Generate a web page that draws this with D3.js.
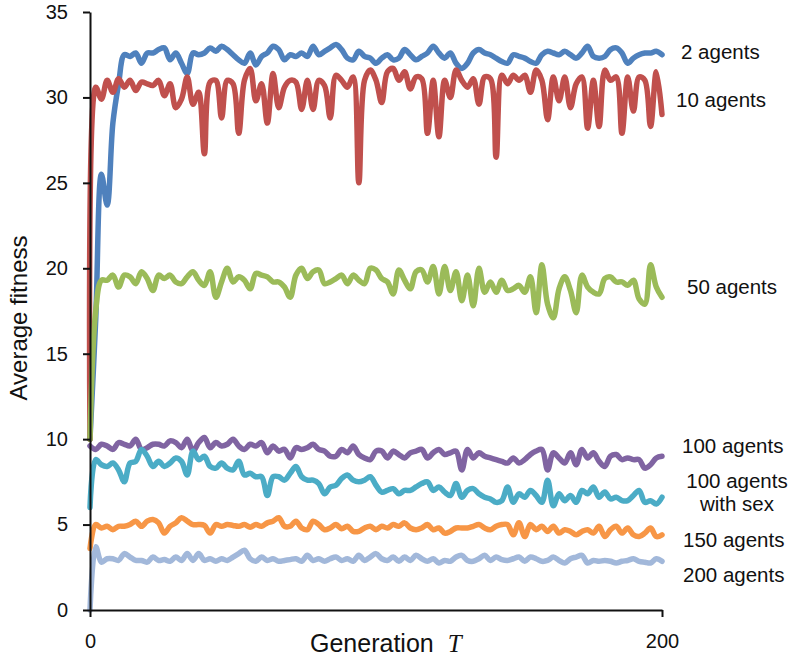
<!DOCTYPE html>
<html>
<head>
<meta charset="utf-8">
<script src="https://cdn.jsdelivr.net/npm/d3@7"></script>
<style>
  html, body { margin: 0; padding: 0; background: #fff; }
  svg { display: block; }
  text { font-family: "Liberation Sans", Arial, Helvetica, sans-serif; fill: #111; }
</style>
</head>
<body>
<svg id="chart" width="797" height="659"></svg>
<script>
// ---- data (generation step 2, 0..200) ----
const generations = d3.range(0, 201, 2);

const agents2 = [10,17,25.5,23.7,28.5,30.8,32.5,32.4,32.6,32.0,32.6,32.6,32.8,32.9,32.2,32.6,32.0,31.4,32.6,32.5,
  32.6,32.9,32.7,33.0,32.8,32.5,32.2,32.0,32.6,31.9,32.4,32.6,33.0,32.8,32.2,32.5,32.4,32.6,32.4,33.0,
  32.5,32.7,32.9,33.1,32.8,32.3,32.2,32.7,32.4,32.3,32.0,32.3,32.5,32.2,32.3,32.8,32.5,32.2,32.4,32.6,
  33.0,32.6,32.3,32.6,32.0,31.7,32.0,32.6,32.8,32.6,32.5,32.3,32.1,32.0,32.5,32.4,32.3,32.1,32.0,32.5,
  32.7,32.6,32.5,32.7,32.5,32.3,32.6,33.0,32.4,32.3,32.4,32.8,32.9,32.6,32.0,32.3,32.5,32.6,32.6,32.7,32.5];

const agents10 = [10,30.6,29.9,31.0,30.3,31.1,30.6,31.0,30.4,30.9,30.8,30.7,31.0,30.1,30.8,29.4,29.9,31.2,29.6,30.3,
  26.7,30.9,31.0,28.8,31.0,30.8,27.9,31.0,31.7,29.8,30.8,28.5,31.4,29.4,30.6,31.0,30.9,29.3,31.0,29.3,
  31.0,30.7,28.8,31.3,31.0,30.6,31.2,25.0,31.0,31.6,31.0,29.7,31.5,31.7,31.0,31.5,30.5,31.2,31.1,27.9,
  31.0,27.7,31.0,30.0,31.6,31.0,30.6,31.1,29.6,31.2,31.1,26.5,31.3,30.8,31.3,31.0,31.3,30.3,31.6,31.0,
  28.7,31.2,29.8,31.2,29.4,30.8,31.2,28.2,31.0,28.3,31.6,31.0,31.2,27.9,31.2,29.2,31.2,31.0,28.3,31.5,29.0];

const agents50 = [10,17.5,19.3,19.3,19.6,18.9,19.6,19.5,19.1,19.8,19.4,18.7,19.6,19.4,19.6,19.2,19.1,19.5,19.8,19.3,
  19.0,19.8,18.3,19.2,20.0,19.2,19.5,19.3,18.8,19.7,19.6,19.5,19.2,19.2,18.9,18.3,19.6,20.0,19.4,19.8,
  19.9,19.1,19.2,19.4,19.6,19.1,19.6,19.3,19.1,20.0,19.9,19.4,19.2,18.5,19.9,19.3,18.8,19.8,19.9,19.2,
  20.1,18.5,20.1,18.7,19.8,18.1,19.6,17.8,20.0,18.6,19.2,18.6,19.3,18.7,18.8,19.0,18.6,19.5,17.4,20.2,
  17.9,17.1,18.8,19.5,18.7,17.4,19.6,18.9,18.6,18.5,19.4,19.5,19.2,19.2,19.0,19.3,18.2,17.9,20.2,18.9,18.3];

const agents100 = [9.6,9.4,9.7,9.6,9.4,9.8,9.7,9.6,10.0,9.4,9.5,9.7,9.7,9.6,9.9,9.8,9.5,10.0,9.3,9.8,
  10.1,9.5,9.8,9.6,9.7,10.0,9.6,9.4,9.7,9.6,9.8,9.2,9.6,9.3,9.4,8.9,9.5,9.4,9.5,9.7,
  9.4,9.3,9.0,9.0,9.4,9.2,9.6,9.1,8.9,8.8,9.3,9.3,8.9,9.3,9.1,8.9,9.2,9.3,9.4,8.9,
  9.2,9.4,9.1,9.2,9.3,8.2,9.4,8.9,9.2,9.0,8.9,8.8,8.7,8.6,8.9,8.6,8.8,9.1,9.3,9.4,
  8.2,9.2,8.9,8.6,9.2,8.5,9.4,8.9,9.2,8.7,8.4,9.0,9.1,8.8,8.9,8.8,8.8,8.3,8.5,8.9,9.0];

const agents100Sex = [6.0,8.8,8.5,8.4,8.6,8.2,7.5,8.6,8.7,9.4,9.0,8.4,8.7,8.4,8.6,8.9,8.7,7.9,9.3,8.8,
  9.0,8.4,8.3,8.6,8.3,8.2,8.7,7.9,8.0,7.8,7.8,6.7,7.8,7.8,7.6,8.0,8.4,7.8,7.6,7.6,
  7.4,6.8,7.2,7.3,7.7,7.9,7.6,7.5,7.6,7.8,7.3,6.9,7.0,7.1,6.8,7.0,7.0,7.2,7.4,7.5,
  7.0,7.2,6.9,6.7,7.4,6.6,7.0,7.1,6.8,6.6,6.5,6.3,6.4,7.2,6.3,6.8,6.6,7.0,6.7,6.3,
  7.6,6.1,6.8,6.4,6.7,6.3,7.0,6.8,7.2,6.6,6.9,6.5,6.6,6.4,6.4,6.7,7.0,6.3,6.4,6.2,6.6];

const agents150 = [3.6,5.0,4.8,4.9,4.7,4.9,4.9,5.0,5.2,4.9,5.2,5.3,5.1,4.5,4.9,5.1,5.4,5.2,5.0,5.0,
  4.95,4.5,5.0,4.9,5.0,4.95,4.9,5.0,4.85,5.0,4.9,5.1,5.2,5.4,4.9,4.9,5.2,4.8,4.7,5.2,
  5.0,4.7,4.8,5.0,4.75,4.9,4.6,4.6,4.8,4.9,4.7,4.9,4.8,5.0,4.9,5.1,4.8,4.7,4.8,5.0,
  4.7,4.8,4.5,4.6,4.8,4.8,4.8,4.9,5.0,4.8,4.7,4.9,5.0,5.0,4.4,5.1,4.3,5.0,4.7,4.9,
  4.6,4.9,4.5,4.7,4.6,4.4,4.6,4.7,4.5,4.9,4.3,4.7,4.9,4.5,4.8,4.4,4.3,4.5,4.8,4.3,4.4];

const agents200 = [0,3.7,2.8,3.0,3.0,2.9,3.3,3.1,2.9,2.9,2.8,3.1,2.9,2.95,2.85,3.1,2.9,3.3,2.9,3.3,
  2.9,3.0,2.85,3.0,2.9,3.1,3.3,3.5,3.0,2.85,3.1,2.9,3.0,2.85,2.9,2.95,3.0,2.85,3.2,2.9,
  3.0,2.85,3.0,3.1,2.9,3.0,2.85,3.2,2.9,3.1,3.3,3.0,2.9,3.1,2.85,3.1,2.9,3.2,3.0,2.85,
  3.0,2.75,2.9,2.85,3.1,3.2,2.9,2.85,3.0,3.2,2.9,3.1,2.95,2.9,3.0,3.1,2.85,3.1,3.0,2.85,
  2.9,3.1,2.9,2.75,3.0,3.1,3.2,2.75,2.9,2.85,2.9,2.85,2.75,2.85,2.9,3.0,2.85,2.8,2.75,3.0,2.85];

const seriesNames = ["2 agents","10 agents","50 agents","100 agents","100 agents with sex","150 agents","200 agents"];
const seriesValues = [agents2, agents10, agents50, agents100, agents100Sex, agents150, agents200];
const seriesColors = ["#4f81bd","#c0504d","#9bbb59","#8064a2","#4bacc6","#f79646","#a2b8da"];

const yTicks = [0,5,10,15,20,25,30,35];
const xTicks = [0,200];

// ---- drawing ----
const svg = d3.select("#chart");
const x = d3.scaleLinear().domain([0,200]).range([90,662]);
const y = d3.scaleLinear().domain([0,35]).range([610,12]);

const line = d3.line()
  .x((d,i) => x(generations[i]))
  .y(d => y(d))
  .curve(d3.curveCatmullRom.alpha(0.5));

seriesValues.forEach((vals, k) => {
  svg.append("path")
    .datum(vals)
    .attr("fill","none")
    .attr("stroke", seriesColors[k])
    .attr("stroke-width", 5.5)
    .attr("stroke-linejoin","round")
    .attr("stroke-linecap","round")
    .attr("d", line);
});

// axes
const yAxis = d3.axisLeft(y).tickValues(yTicks).tickSize(7).tickSizeOuter(0).tickPadding(15);
const gy = svg.append("g").attr("transform","translate(90,0)").call(yAxis);
const xAxis = d3.axisBottom(x).tickValues(xTicks).tickSize(7).tickSizeOuter(0).tickPadding(17);
const gx = svg.append("g").attr("transform","translate(0,610)").call(xAxis);
[gx, gy].forEach(g => {
  g.select(".domain").attr("stroke","#111").attr("stroke-width",2);
  g.selectAll(".tick line").attr("stroke","#111").attr("stroke-width",2);
  g.selectAll(".tick text").attr("font-size",20).attr("fill","#111")
    .attr("font-family","'Liberation Sans', Arial, sans-serif");
});

// axis titles
svg.append("text")
  .attr("transform","translate(27,318) rotate(-90)")
  .attr("text-anchor","middle")
  .attr("font-size",24)
  .text("Average fitness");

const xt = svg.append("text")
  .attr("x",310).attr("y",652)
  .attr("font-size",25);
xt.append("tspan").text("Generation");
xt.append("tspan").attr("dx",14)
  .attr("font-family","'Liberation Serif', 'Times New Roman', serif")
  .attr("font-style","italic").text("T");

// series labels
const labelPos = [
  {t:["2 agents"], x:681, y:52, anchor:"start"},
  {t:["10 agents"], x:676, y:100, anchor:"start"},
  {t:["50 agents"], x:687, y:287, anchor:"start"},
  {t:["100 agents"], x:682, y:446, anchor:"start"},
  {t:["100 agents","with sex"], x:737, y:481, anchor:"middle"},
  {t:["150 agents"], x:683, y:540, anchor:"start"},
  {t:["200 agents"], x:683, y:575, anchor:"start"}
];
labelPos.forEach(l => {
  const t = svg.append("text")
    .attr("x", l.x).attr("y", l.y)
    .attr("text-anchor", l.anchor)
    .attr("font-size", 20.5);
  l.t.forEach((s, i) => {
    t.append("tspan").attr("x", l.x).attr("dy", i === 0 ? "0.35em" : "1.13em").text(s);
  });
});
</script>
</body>
</html>
